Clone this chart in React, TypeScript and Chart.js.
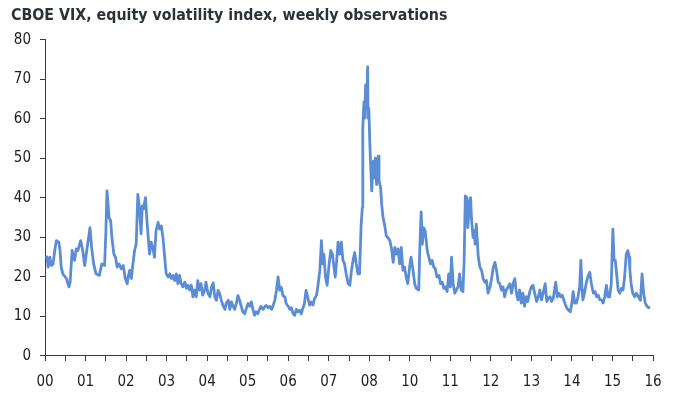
import React, { useEffect, useRef } from 'react';
import { Chart, registerables } from 'chart.js';

Chart.register(...registerables);

const TITLE = 'CBOE VIX, equity volatility index, weekly observations';

// x-axis category labels (one per year; the source skips "09")
const xLabels = ['00', '01', '02', '03', '04', '05', '06', '07', '08', '10', '11', '12', '13', '14', '15', '16'];
const yTicks = [0, 10, 20, 30, 40, 50, 60, 70, 80];

// observation position along the axis (in label units: 0 = "00", 15 = "16")
const obsTime = [
  0.04, 0.08, 0.12, 0.16, 0.20, 0.24, 0.28, 0.34, 0.37, 0.40,
  0.44, 0.53, 0.59, 0.62, 0.67, 0.73, 0.77, 0.81, 0.88, 0.93,
  0.98, 1.03, 1.07, 1.11, 1.15, 1.20, 1.26, 1.34, 1.40, 1.47,
  1.50, 1.53, 1.58, 1.62, 1.65, 1.70, 1.74, 1.78, 1.83, 1.88,
  1.93, 1.98, 2.03,
  2.05, 2.09, 2.13, 2.17, 2.21, 2.25, 2.29, 2.33, 2.37, 2.40,
  2.43, 2.48, 2.51, 2.54, 2.58, 2.62, 2.66, 2.70, 2.74, 2.79,
  2.83, 2.87, 2.91, 2.96, 2.99, 3.04, 3.08, 3.12, 3.16, 3.20,
  3.24, 3.28, 3.32, 3.36, 3.40, 3.45, 3.49, 3.53, 3.57, 3.61,
  3.65, 3.69, 3.73, 3.77, 3.81, 3.85, 3.89, 3.94, 3.97, 4.02,
  4.07, 4.11, 4.15,
  4.19, 4.23, 4.27, 4.31, 4.35, 4.39, 4.44, 4.47, 4.52, 4.56,
  4.60, 4.64, 4.68, 4.72, 4.76, 4.80, 4.84, 4.88, 4.93, 4.96,
  5.01, 5.05, 5.09, 5.13, 5.17, 5.21, 5.25, 5.29, 5.33, 5.38,
  5.43, 5.46, 5.51, 5.55, 5.59, 5.63, 5.67, 5.71, 5.75, 5.79,
  5.83, 5.87, 5.92, 5.95, 6.00, 6.04, 6.08, 6.12, 6.16, 6.20,
  6.24,
  6.28, 6.32, 6.36, 6.40, 6.44, 6.48, 6.53, 6.57, 6.61, 6.65,
  6.70, 6.74, 6.78, 6.82, 6.85, 6.88, 6.92, 6.96, 7.01, 7.05,
  7.09, 7.13, 7.16, 7.19, 7.23, 7.27, 7.31, 7.35, 7.39, 7.43,
  7.48, 7.52, 7.56, 7.60, 7.64, 7.68, 7.72, 7.76, 7.80, 7.83,
  7.84, 7.87, 7.89, 7.91, 7.92, 7.94, 7.96, 7.97, 7.99, 8.01,
  8.03, 8.06, 8.10, 8.12, 8.15, 8.18, 8.22, 8.24, 8.28, 8.31,
  8.34,
  8.39, 8.42, 8.46, 8.51, 8.55, 8.59, 8.63, 8.67, 8.71, 8.75,
  8.79, 8.83, 8.87, 8.91, 8.95, 9.00, 9.03, 9.08, 9.12, 9.16,
  9.22, 9.25, 9.28, 9.31, 9.34, 9.38, 9.43, 9.47, 9.51, 9.55,
  9.59, 9.63, 9.67, 9.72, 9.76, 9.80, 9.84, 9.88, 9.92, 9.96,
  10.00, 10.03, 10.07, 10.11, 10.15, 10.19, 10.23, 10.27, 10.31, 10.34,
  10.37,
  10.39, 10.41, 10.43, 10.48, 10.50, 10.52, 10.56, 10.59, 10.61, 10.64,
  10.66, 10.69, 10.73, 10.77, 10.81, 10.85, 10.89, 10.93, 10.98, 11.01,
  11.06, 11.10, 11.14, 11.18, 11.22, 11.26, 11.30, 11.34, 11.38, 11.43,
  11.47, 11.51, 11.55, 11.59, 11.63, 11.67, 11.71, 11.75, 11.79, 11.83,
  11.87, 11.91, 11.96, 12.00, 12.04, 12.08, 12.13, 12.17, 12.21, 12.25,
  12.29, 12.34, 12.38, 12.42, 12.46, 12.50, 12.54,
  12.60, 12.64, 12.68, 12.72, 12.76, 12.80, 12.84, 12.88, 12.92, 12.96,
  13.00, 13.03, 13.07, 13.11, 13.15, 13.19, 13.22, 13.25, 13.27, 13.31,
  13.35, 13.39, 13.44, 13.48, 13.53, 13.57, 13.61, 13.65, 13.69, 13.73,
  13.77, 13.81, 13.85, 13.89, 13.93, 13.97, 14.01, 14.04, 14.07, 14.11,
  14.14, 14.18, 14.22, 14.26, 14.30, 14.34, 14.38, 14.41, 14.43, 14.46,
  14.50, 14.55, 14.59, 14.64, 14.69, 14.73, 14.77, 14.81, 14.85, 14.89,
  14.91,
];

// VIX level at each observation
const vixClose = [
  25.4, 22.5, 25.0, 22.9, 23.3, 26.7, 29.2, 28.8, 26.7, 22.5,
  20.8, 19.6, 17.5, 18.7, 26.7, 24.2, 27.1, 26.7, 29.2, 26.7,
  22.9, 26.7, 29.6, 32.5, 27.5, 23.3, 20.8, 20.4, 23.3, 22.9,
  30.9, 41.8, 35.1, 34.2, 30.0, 25.8, 25.0, 22.5, 23.3, 22.1,
  22.9, 19.6, 18.3,
  20.0, 21.7, 19.6, 23.3, 26.7, 28.3, 40.9, 37.6, 30.9, 38.0,
  37.2, 40.1, 35.1, 30.9, 25.8, 28.8, 27.5, 25.0, 31.7, 33.8,
  32.1, 32.9, 30.0, 24.2, 20.8, 20.0, 20.8, 19.6, 20.4, 19.1,
  20.8, 18.3, 20.4, 18.3, 17.5, 18.7, 17.1, 17.9, 16.7, 17.9,
  15.0, 16.7, 15.0, 19.1, 16.7, 18.3, 15.4, 16.7, 18.7, 15.9,
  15.0, 17.5, 18.5,
  14.9, 14.1, 16.6, 15.8, 14.1, 12.8, 11.8, 13.3, 14.1, 11.8,
  13.7, 12.6, 11.8, 13.3, 15.3, 14.1, 12.6, 11.2, 10.7, 11.8,
  13.3, 12.6, 13.7, 11.8, 10.3, 11.2, 10.7, 11.8, 12.6, 11.8,
  12.6, 12.8, 12.2, 12.6, 11.8, 12.8, 14.1, 16.6, 20.0, 16.6,
  17.4, 15.3, 14.9, 13.3, 12.6, 11.8, 12.2, 10.7, 10.3, 11.8,
  11.2,
  11.6, 10.7, 12.0, 13.3, 16.6, 14.9, 12.9, 13.7, 12.9, 14.5,
  15.4, 18.3, 21.6, 29.2, 23.3, 25.8, 20.0, 17.9, 23.3, 26.7,
  25.8, 22.5, 20.0, 23.3, 28.8, 25.8, 28.8, 24.2, 23.3, 20.8,
  18.3, 17.9, 21.6, 24.2, 26.2, 23.3, 20.8, 20.8, 33.4, 37.6,
  57.7, 64.4, 60.2, 68.6, 62.7, 65.2, 73.2, 60.2, 62.7, 55.2,
  49.3, 41.8, 49.3, 45.1, 50.1, 43.4, 50.6, 44.5, 42.6, 38.0,
  35.1,
  32.5, 30.4, 30.0, 29.2, 27.1, 23.7, 27.5, 25.8, 27.1, 23.3,
  27.5, 21.7, 22.5, 20.0, 18.3, 22.9, 25.0, 21.7, 18.3, 17.1,
  16.7, 28.3, 36.5, 28.3, 32.5, 31.7, 26.7, 25.0, 23.3, 24.2,
  22.5, 22.1, 20.0, 20.4, 18.3, 18.7, 17.1, 17.5, 16.3, 20.8,
  17.5, 25.0, 18.3, 15.9, 16.7, 17.5, 20.8, 16.7, 16.3, 24.0,
  40.5,
  35.0, 40.1, 32.5, 39.3, 40.1, 35.0, 30.0, 31.7, 28.3, 33.4,
  30.0, 25.0, 22.5, 21.7, 19.6, 18.7, 19.1, 15.9, 17.5, 19.1,
  22.5, 23.7, 21.7, 18.7, 18.3, 16.7, 17.5, 15.0, 16.7, 17.5,
  18.3, 15.9, 18.3, 19.6, 15.9, 14.2, 16.7, 13.4, 15.9, 12.6,
  15.0, 13.8, 16.3, 17.5, 17.9, 15.9, 13.8, 15.0, 16.7, 14.2,
  15.9, 18.3, 13.8, 14.6, 15.0, 13.8, 14.6,
  18.7, 15.0, 15.9, 15.0, 15.4, 14.2, 12.9, 12.0, 11.6, 11.2,
  13.4, 16.3, 13.4, 13.4, 15.0, 17.5, 24.2, 16.7, 14.2, 15.9,
  18.3, 20.0, 21.2, 18.3, 15.9, 16.3, 15.0, 15.4, 14.2, 14.2,
  13.4, 15.0, 17.9, 15.0, 15.0, 18.3, 32.1, 24.2, 24.2, 20.0,
  16.7, 15.9, 17.1, 16.7, 20.0, 25.8, 26.7, 25.0, 21.7, 18.3,
  15.9, 15.0, 15.9, 15.0, 14.1, 20.8, 15.9, 13.4, 12.6, 12.2,
  12.6,
];

const LINE_COLOR = '#5b8dd4';
const AXIS_COLOR = '#3a3a3a';
const TEXT_COLOR = '#1e1e1e';
const FONT = "'DejaVu Sans Condensed', 'DejaVu Sans', sans-serif";

export default function App() {
  const ref = useRef<HTMLCanvasElement>(null);

  useEffect(() => {
    if (!ref.current) return;
    const n = Math.min(obsTime.length, vixClose.length);
    const points = [];
    for (let i = 0; i < n; i++) points.push({ x: obsTime[i], y: vixClose[i] });

    const chart = new Chart(ref.current, {
      type: 'line',
      data: {
        datasets: [
          {
            data: points,
            borderColor: LINE_COLOR,
            borderWidth: 2.8,
            pointRadius: 0,
            tension: 0,
            fill: false,
            borderJoinStyle: 'round',
          },
        ],
      },
      options: {
        animation: false,
        responsive: false,
        layout: { padding: { left: 11, right: 33, top: 0, bottom: 0 } },
        plugins: {
          legend: { display: false },
          tooltip: { enabled: false },
          title: {
            display: true,
            text: TITLE,
            align: 'start',
            color: '#2c3236',
            font: { family: FONT, size: 15.8, weight: 'bold' },
            padding: { top: 6, bottom: 15 },
          },
        },
        scales: {
          x: {
            type: 'linear',
            min: 0,
            max: 15,
            afterFit: (s: any) => {
              s.height = 42;
            },
            grid: { drawOnChartArea: false, drawTicks: true, tickLength: 5, color: AXIS_COLOR },
            border: { display: true, color: AXIS_COLOR, width: 1 },
            ticks: {
              stepSize: 0.5,
              autoSkip: false,
              maxRotation: 0,
              padding: 12,
              color: TEXT_COLOR,
              font: { family: FONT, size: 15 },
              callback: (v: any) => {
                const val = Number(v);
                return Number.isInteger(val) ? xLabels[val] ?? '' : '';
              },
            },
          },
          y: {
            min: yTicks[0],
            max: yTicks[yTicks.length - 1],
            afterFit: (s: any) => {
              s.width = 34;
            },
            grid: { drawOnChartArea: false, drawTicks: true, tickLength: 5, color: AXIS_COLOR },
            border: { display: true, color: AXIS_COLOR, width: 1 },
            ticks: {
              stepSize: 10,
              padding: 9,
              color: TEXT_COLOR,
              font: { family: FONT, size: 15 },
            },
          },
        },
      },
    });
    return () => chart.destroy();
  }, []);

  return (
    <div style={{ position: 'fixed', left: 0, top: 0, width: 686, height: 398, background: '#ffffff' }}>
      <canvas ref={ref} width={686} height={398} style={{ display: 'block', width: 686, height: 398 }} />
    </div>
  );
}
